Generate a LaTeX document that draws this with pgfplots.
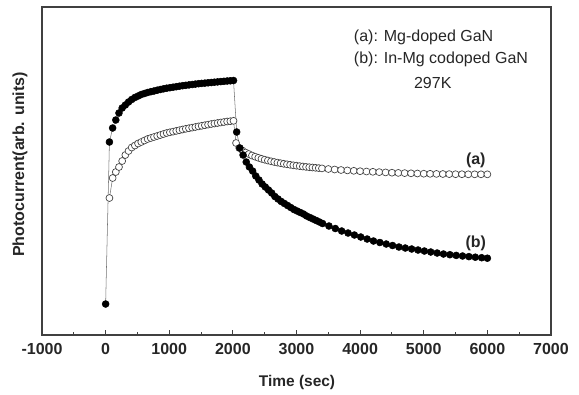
\documentclass[border=0pt]{standalone}
\usepackage{pgfplots}
\pgfplotsset{compat=1.18}
\usepackage{fontspec}
\setmainfont{Liberation Sans}
\begin{document}
\begin{tikzpicture}
\begin{axis}[
  name=ax,
  scale only axis,
  width=381.75pt, height=246pt,
  xmin=-1000, xmax=7000, ymin=0, ymax=328,
  xtick={-1000,0,1000,2000,3000,4000,5000,6000,7000},
  minor x tick num=1,
  ytick=\empty,
  xtick pos=bottom,
  tick align=inside,
  major tick length=3.75pt,
  minor tick length=2.4pt,
  axis line style={draw=black!75, line width=0.8pt},
  every tick/.style={draw=black!75, line width=0.7pt},
  /pgf/number format/assume math mode=true,
  /pgf/number format/set thousands separator={},
  xticklabel style={font=\fontsize{12}{14}\selectfont\bfseries, text=black!85, yshift=-3pt},
  xlabel={Time (sec)},
  ylabel={Photocurrent(arb. units)},
  xlabel style={font=\fontsize{11.6}{14}\selectfont\bfseries, text=black!85, at={(axis description cs:0.501,-0.146)}, anchor=center},
  ylabel style={font=\fontsize{12}{14}\selectfont\bfseries, text=black!85, at={(axis description cs:-0.0432,0.52)}, anchor=center, rotate=0},
  clip=false,
]
% (a) Mg-doped GaN, open circles
\addplot[draw=black!55, line width=0.4pt, mark=*, mark size=2.6pt,
  mark options={fill=white, draw=black!75, line width=0.5pt}] coordinates {
(60,137) (110,157) (160,163) (210,168) (260,174) (310,180) (360,184) (410,187.5)
(460,189.5) (510,191.5) (560,193) (610,194.5) (660,196) (710,197) (760,198) (810,199)
(860,200) (910,201) (960,202) (1010,202.7) (1060,203.4) (1110,204.1) (1160,204.8)
(1210,205.5) (1260,206.2) (1310,206.8) (1360,207.4) (1410,208) (1460,208.6) (1510,209.2)
(1560,209.8) (1610,210.4) (1660,211) (1710,211.5) (1760,212) (1810,212.5) (1860,213)
(1910,213.5) (1960,213.8) (2010,214.2)
(2050,192) (2100,187) (2150,184.5) (2200,182.5) (2250,181) (2300,179.5) (2350,178.3)
(2400,177.2) (2450,176.2) (2500,175.3) (2550,174.5) (2600,173.7) (2650,173) (2700,172.4)
(2750,171.8) (2800,171.2) (2850,170.7) (2900,170.2) (2950,169.7) (3000,169.3) (3050,168.9)
(3100,168.5) (3150,168.1) (3200,167.8) (3250,167.5) (3300,167.2) (3350,166.9) (3400,166.6)
(3500,166) (3600,165.5) (3700,165) (3800,164.6) (3900,164.2) (4000,163.8) (4100,163.5)
(4200,163.2) (4300,162.9) (4400,162.6) (4500,162.3) (4600,162.1) (4700,161.9) (4800,161.7)
(4900,161.5) (5000,161.3) (5100,161.2) (5200,161.1) (5300,161) (5400,160.9) (5500,160.8)
(5600,160.8) (5700,160.7) (5800,160.7) (5900,160.7) (6000,160.7)
};
% (b) In-Mg codoped GaN, filled circles
\addplot[draw=black!55, line width=0.4pt, mark=*, mark size=2.6pt,
  mark options={fill=black, draw=black}] coordinates {
(0,31) (60,193) (110,207) (160,215) (210,222) (260,227) (310,230) (360,233) (410,235.5)
(460,237.5) (510,239) (560,240.5) (610,241.5) (660,242.5) (710,243.3) (760,244) (810,244.8)
(860,245.5) (910,246.2) (960,246.8) (1010,247.3) (1060,247.8) (1110,248.3) (1160,248.8)
(1210,249.3) (1260,249.7) (1310,250.1) (1360,250.5) (1410,250.9) (1460,251.3) (1510,251.6)
(1560,251.9) (1610,252.2) (1660,252.5) (1710,252.8) (1760,253.1) (1810,253.4) (1860,253.7)
(1910,254) (1960,254.2) (2010,254.5)
(2060,203) (2110,187) (2160,180) (2210,173) (2260,168) (2310,164) (2360,159) (2410,155)
(2460,151) (2510,148) (2560,145) (2610,142) (2660,138.5) (2710,136) (2760,133.5) (2810,131.5)
(2860,129.5) (2910,127.5) (2960,125.5) (3010,124) (3060,122.5) (3110,121) (3160,119)
(3210,117.5) (3260,116) (3310,114.5) (3360,113) (3410,111.5)
(3510,109) (3610,106.5) (3710,104) (3810,102) (3910,100) (4010,98) (4110,96) (4210,94)
(4310,92.5) (4410,91) (4510,89.5) (4610,88) (4710,87) (4810,86) (4910,85) (5010,84)
(5110,83) (5210,82) (5310,81) (5410,80.3) (5510,79.6) (5610,79) (5710,78.4) (5810,77.8)
(5910,77.3) (6000,76.8)
};
\node[font=\fontsize{12}{14}\selectfont\bfseries, text=black!85] at (axis cs:5818,175) {(a)};
\node[font=\fontsize{12}{14}\selectfont\bfseries, text=black!85] at (axis cs:5818,92) {(b)};
\node[font=\fontsize{12}{14}\selectfont, text=black!85, anchor=west, inner sep=0pt] at (axis cs:3899,298) {(a): Mg-doped GaN};
\node[font=\fontsize{12}{14}\selectfont, text=black!85, anchor=west, inner sep=0pt] at (axis cs:3899,276) {(b): In-Mg codoped GaN};
\node[font=\fontsize{12}{14}\selectfont, text=black!85] at (axis cs:5142,252) {297K};
\end{axis}
\pgfresetboundingbox
\path ([shift={(-31.5pt,-44.25pt)}]ax.south west) rectangle ([shift={(21pt,5.25pt)}]ax.north east);
\end{tikzpicture}
\end{document}
